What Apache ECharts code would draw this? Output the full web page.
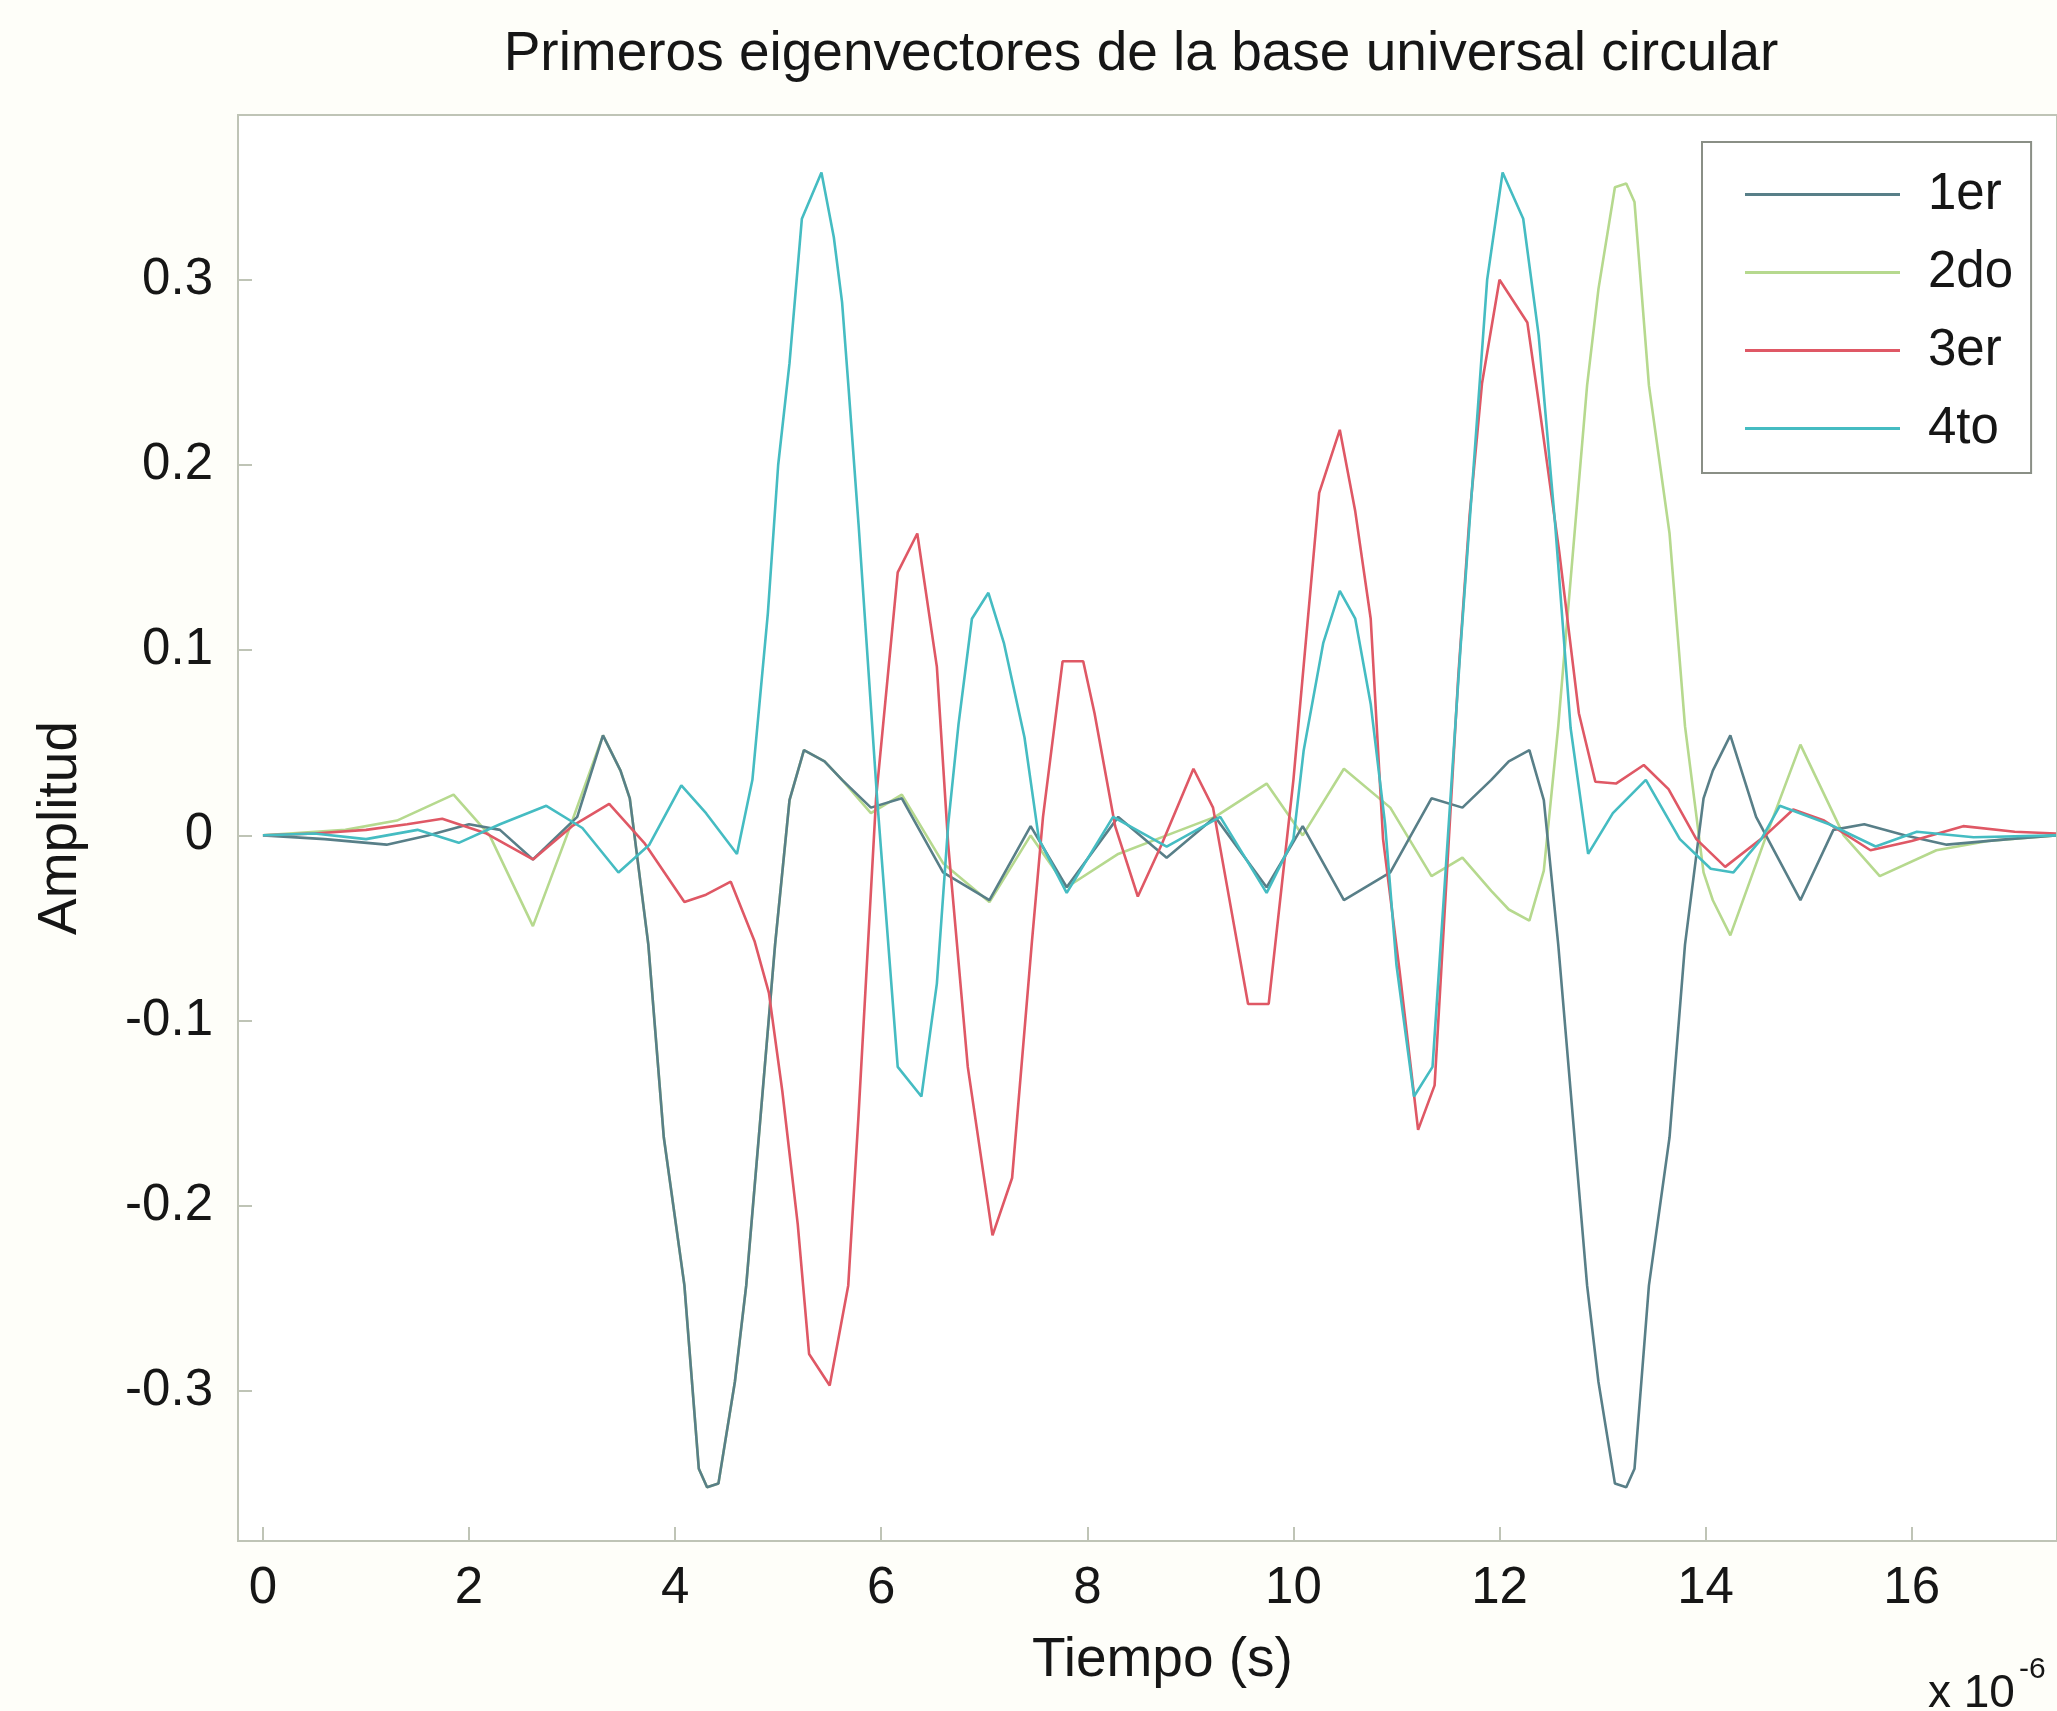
<!DOCTYPE html>
<html>
<head>
<meta charset="utf-8">
<script src="https://cdn.jsdelivr.net/npm/echarts@6/dist/echarts.min.js"></script>
<style>
html,body{margin:0;padding:0;background:#fefef9;}
#chart{width:2057px;height:1711px;}
</style>
</head>
<body>
<div id="chart"></div>
<script>
// ---- data (time in units of 1e-6 s) ----
const seriesNames = ['1er', '2do', '3er', '4to'];
const xTicks = [0, 2, 4, 6, 8, 10, 12, 14, 16];
const yTicks = [-0.3, -0.2, -0.1, 0, 0.1, 0.2, 0.3];

// 1er
const t1 = [0, 0.6, 1.2, 1.6, 2.0, 2.3, 2.62, 3.05, 3.3, 3.47, 3.56, 3.74, 3.89, 4.09, 4.23, 4.31, 4.42, 4.58, 4.69, 4.85, 4.97, 5.11, 5.25, 5.45, 5.62, 5.9, 6.2, 6.6, 7.05, 7.45, 7.8, 8.3, 8.77, 9.24, 9.74, 10.09, 10.49, 10.94, 11.34, 11.64, 11.92, 12.09, 12.29, 12.43, 12.57, 12.69, 12.85, 12.96, 13.12, 13.23, 13.31, 13.45, 13.65, 13.8, 13.98, 14.07, 14.24, 14.49, 14.92, 15.24, 15.54, 15.94, 16.34, 16.94, 17.4];
const y1 = [0, -0.002, -0.005, 0.0, 0.006, 0.003, -0.013, 0.01, 0.054, 0.035, 0.02, -0.059, -0.163, -0.243, -0.342, -0.352, -0.35, -0.295, -0.243, -0.138, -0.059, 0.019, 0.046, 0.04, 0.03, 0.015, 0.02, -0.02, -0.035, 0.005, -0.028, 0.01, -0.012, 0.01, -0.028, 0.005, -0.035, -0.02, 0.02, 0.015, 0.03, 0.04, 0.046, 0.019, -0.059, -0.138, -0.243, -0.295, -0.35, -0.352, -0.342, -0.243, -0.163, -0.059, 0.02, 0.035, 0.054, 0.01, -0.035, 0.003, 0.006, 0.0, -0.005, -0.002, 0.0];

// 2do
const t2 = [0, 0.8, 1.3, 1.85, 2.2, 2.62, 2.95, 3.3, 3.47, 3.56, 3.74, 3.89, 4.09, 4.23, 4.31, 4.42, 4.58, 4.69, 4.85, 4.97, 5.11, 5.25, 5.45, 5.62, 5.9, 6.2, 6.6, 7.05, 7.45, 7.8, 8.3, 8.77, 9.24, 9.74, 10.09, 10.49, 10.94, 11.34, 11.64, 11.92, 12.09, 12.29, 12.43, 12.57, 12.69, 12.85, 12.96, 13.12, 13.23, 13.31, 13.45, 13.65, 13.8, 13.98, 14.07, 14.24, 14.59, 14.92, 15.34, 15.69, 16.24, 16.74, 17.4];
const y2 = [0, 0.003, 0.008, 0.022, 0.0, -0.049, 0.0, 0.054, 0.035, 0.02, -0.059, -0.163, -0.243, -0.342, -0.352, -0.35, -0.295, -0.243, -0.138, -0.059, 0.019, 0.046, 0.04, 0.03, 0.012, 0.022, -0.015, -0.036, 0.0, -0.028, -0.01, 0.0, 0.01, 0.028, 0.0, 0.036, 0.015, -0.022, -0.012, -0.03, -0.04, -0.046, -0.019, 0.059, 0.138, 0.243, 0.295, 0.35, 0.352, 0.342, 0.243, 0.163, 0.059, -0.02, -0.035, -0.054, 0.0, 0.049, 0.0, -0.022, -0.008, -0.003, 0.0];

// 3er
const t3 = [0, 0.5, 1.0, 1.4, 1.74, 2.17, 2.62, 3.0, 3.36, 3.7, 4.09, 4.3, 4.54, 4.77, 4.91, 5.04, 5.19, 5.3, 5.5, 5.68, 5.78, 5.95, 6.16, 6.35, 6.54, 6.65, 6.84, 7.08, 7.27, 7.46, 7.57, 7.76, 7.96, 8.07, 8.27, 8.49, 8.72, 9.03, 9.22, 9.56, 9.76, 10.0, 10.25, 10.45, 10.6, 10.75, 10.87, 11.03, 11.21, 11.37, 11.6, 11.71, 11.83, 12.0, 12.27, 12.38, 12.58, 12.77, 12.93, 13.13, 13.4, 13.64, 13.91, 14.19, 14.58, 14.85, 15.15, 15.6, 16.0, 16.5, 17.0, 17.4];
const y3 = [0, 0.001, 0.003, 0.006, 0.009, 0.001, -0.013, 0.005, 0.017, -0.004, -0.036, -0.032, -0.025, -0.057, -0.085, -0.138, -0.21, -0.28, -0.297, -0.243, -0.151, 0.02, 0.142, 0.163, 0.091, -0.005, -0.125, -0.216, -0.185, -0.059, 0.01, 0.094, 0.094, 0.066, 0.005, -0.033, -0.005, 0.036, 0.015, -0.091, -0.091, 0.03, 0.185, 0.219, 0.175, 0.117, -0.002, -0.073, -0.159, -0.135, 0.086, 0.173, 0.244, 0.3, 0.277, 0.234, 0.153, 0.066, 0.029, 0.028, 0.038, 0.025, -0.002, -0.017, 0.0, 0.014, 0.008, -0.008, -0.003, 0.005, 0.002, 0.001];

// 4to
const t4 = [0, 0.5, 1.0, 1.5, 1.9, 2.3, 2.75, 3.1, 3.45, 3.75, 4.06, 4.3, 4.6, 4.75, 4.9, 5.0, 5.11, 5.23, 5.42, 5.54, 5.62, 5.68, 5.78, 5.96, 6.16, 6.39, 6.54, 6.65, 6.75, 6.88, 7.04, 7.19, 7.39, 7.53, 7.8, 8.25, 8.77, 9.29, 9.74, 10.0, 10.1, 10.29, 10.45, 10.6, 10.75, 10.89, 11.0, 11.17, 11.35, 11.5, 11.62, 11.75, 11.88, 12.03, 12.23, 12.38, 12.54, 12.69, 12.86, 13.1, 13.42, 13.75, 14.05, 14.27, 14.54, 14.72, 15.2, 15.65, 16.05, 16.6, 17.4];
const y4 = [0, 0.001, -0.002, 0.003, -0.004, 0.006, 0.016, 0.004, -0.02, -0.005, 0.027, 0.012, -0.01, 0.03, 0.12, 0.2, 0.255, 0.333, 0.358, 0.323, 0.288, 0.244, 0.168, 0.02, -0.125, -0.141, -0.08, 0.006, 0.06, 0.117, 0.131, 0.104, 0.053, -0.002, -0.031, 0.01, -0.006, 0.01, -0.031, -0.002, 0.046, 0.104, 0.132, 0.117, 0.071, 0.006, -0.07, -0.141, -0.125, 0.0, 0.1, 0.2, 0.3, 0.358, 0.333, 0.27, 0.168, 0.058, -0.01, 0.012, 0.03, -0.002, -0.018, -0.02, -0.002, 0.016, 0.006, -0.006, 0.002, -0.001, 0.0];

const xs = [t1, t2, t3, t4];
const ys = [y1, y2, y3, y4];
const colors = ['#587f88', '#b6d98e', '#df5865', '#45bcc2'];
const zs = [4, 3, 5, 6];

const FONT = "'Liberation Sans', Arial, 'Helvetica', sans-serif";
const chart = echarts.init(document.getElementById('chart'), null, {renderer: 'canvas'});

const series = seriesNames.map((name, i) => ({
  name: name,
  type: 'line',
  symbol: 'none',
  z: zs[i],
  lineStyle: {width: 2.6, color: colors[i]},
  itemStyle: {color: colors[i]},
  data: xs[i].map((x, k) => [x, ys[i][k]]),
  animation: false
}));

const axisCol = '#bfc4b6';
const txtCol = '#161616';

chart.setOption({
  backgroundColor: '#fefef9',
  animation: false,
  textStyle: {fontFamily: FONT},
  grid: {
    left: 238, top: 115, right: -4, bottom: 170,
    show: true, borderColor: axisCol, borderWidth: 2, backgroundColor: '#ffffff'
  },
  legend: {
    orient: 'vertical',
    left: 1702, top: 142,
    padding: [27, 18, 19, 43],
    icon: 'rect',
    itemWidth: 155, itemHeight: 3, itemGap: 27,
    backgroundColor: '#ffffff',
    borderColor: '#8a8f86', borderWidth: 2,
    textStyle: {fontSize: 51, lineHeight: 50, color: txtCol, padding: [0, 0, 0, 23], fontFamily: FONT},
    data: seriesNames
  },
  xAxis: {
    type: 'value',
    min: -0.242, max: 17.41,
    name: 'Tiempo (s)',
    nameLocation: 'middle',
    nameGap: 92,
    nameTextStyle: {fontSize: 55, color: txtCol, fontFamily: FONT, padding: [0, 0, 0, 30]},
    axisLine: {show: true, onZero: false, lineStyle: {color: axisCol, width: 2}},
    axisTick: {show: true, inside: true, length: 14, lineStyle: {color: axisCol, width: 2}, customValues: xTicks},
    axisLabel: {fontSize: 51, color: txtCol, margin: 22, fontFamily: FONT, customValues: xTicks},
    splitLine: {show: false}
  },
  yAxis: {
    type: 'value',
    min: -0.381, max: 0.389,
    name: 'Amplitud',
    nameLocation: 'middle',
    nameGap: 150,
    nameRotate: 90,
    nameTextStyle: {fontSize: 55, color: txtCol, fontFamily: FONT},
    axisLine: {show: true, onZero: false, lineStyle: {color: axisCol, width: 2}},
    axisTick: {show: true, inside: true, length: 14, lineStyle: {color: axisCol, width: 2}, customValues: yTicks},
    axisLabel: {fontSize: 51, color: txtCol, margin: 25, fontFamily: FONT, customValues: yTicks,
      formatter: v => String(Math.round(v * 10) / 10)},
    splitLine: {show: false}
  },
  graphic: [
    {type: 'text', x: 1141, y: 55, style: {text: 'Primeros eigenvectores de la base universal circular', fontSize: 55, fontFamily: FONT, fill: txtCol, align: 'center', verticalAlign: 'middle'}},
    {type: 'text', x: 1928, y: 1694, style: {text: 'x 10', fontSize: 46, fontFamily: FONT, fill: txtCol, align: 'left', verticalAlign: 'middle'}},
    {type: 'text', x: 2019, y: 1670, style: {text: '-6', fontSize: 30, fontFamily: FONT, fill: txtCol, align: 'left', verticalAlign: 'middle'}}
  ],
  series: series
});
</script>
</body>
</html>
